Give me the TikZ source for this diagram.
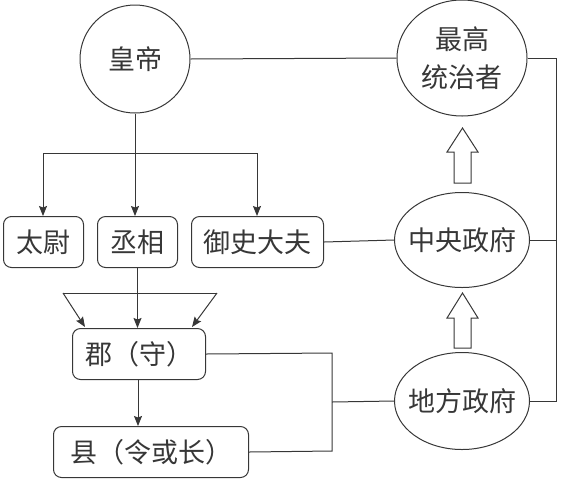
\documentclass[tikz,border=0pt]{standalone}
\usepackage{fontspec}
\setmainfont{Noto Sans CJK SC}[BoldFont=Noto Sans CJK SC]
\usetikzlibrary{arrows.meta,shapes.geometric}
\definecolor{ink}{RGB}{55,55,55}
\tikzset{
  ln/.style={draw=ink, line width=1pt},
  arr/.style={ln, -{Stealth[length=10pt,width=8pt,inset=1.5pt]}},
  txt/.style={text=ink, font=\fontsize{27}{38}\selectfont, inner sep=0pt, align=center},
  rbox/.style={draw=ink, line width=1pt, rounded corners=8pt, anchor=north west, inner sep=0pt},
  circ/.style={draw=ink, line width=1pt, ellipse, inner sep=0pt},
  blockarr/.style={draw=ink, line width=1pt, fill=white}
}
\begin{document}
\begin{tikzpicture}[x=1pt,y=-1pt]
\useasboundingbox (0,0) rectangle (561,480);
% circles
\node[circ, minimum width=110pt, minimum height=108pt] (hd) at (135,59) {};
\node[txt] at (hd.center) {皇帝};
\node[circ, minimum width=130pt, minimum height=116pt] (zg) at (462,58) {};
\node[txt] at (zg.center) {最高\\统治者};
\node[circ, minimum width=135pt, minimum height=95pt] (zy) at (462,240) {};
\node[txt] at (zy.center) {中央政府};
\node[circ, minimum width=135pt, minimum height=97pt] (df) at (462,401) {};
\node[txt] at (df.center) {地方政府};
% boxes
\node[rbox, minimum width=80pt, minimum height=51pt] (tw) at (3,216) {};
\node[txt] at (tw.center) {太尉};
\node[rbox, minimum width=80pt, minimum height=51pt] (cx) at (97,216) {};
\node[txt] at (cx.center) {丞相};
\node[rbox, minimum width=132pt, minimum height=51pt] (ys) at (191,216) {};
\node[txt] at (ys.center) {御史大夫};
\node[rbox, minimum width=133pt, minimum height=51pt] (jun) at (72,328) {};
\node[txt] at (jun.center) {郡（守）};
\node[rbox, minimum width=195pt, minimum height=51pt] (xian) at (53,426) {};
\node[txt] at (xian.center) {县（令或长）};
% coordinates
\coordinate (t0) at (135,153);
\coordinate (tl) at (43,153);
\coordinate (tr) at (257,153);
\coordinate (pl) at (63,293);
\coordinate (pr) at (217,293);
\coordinate (bx) at (332,402);
\coordinate (rx) at (556,240);
% tree from emperor
\draw[ln] (hd.south) -- (t0);
\draw[ln] (tl) -- (tr);
\draw[arr] (tl) -- (tl |- tw.north);
\draw[arr] (t0) -- (t0 |- cx.north);
\draw[arr] (tr) -- (tr |- ys.north);
% trapezoid
\draw[ln] (pl) -- (pr);
\draw[arr] (cx.south) -- (cx.south |- jun.north);
\draw[arr] (pl) -- (85,327);
\draw[arr] (pr) -- (192,327);
\draw[arr] (138,379) -- (138,426);
% right lines
\draw[ln] (hd.east) -- (zg.west);
\draw[ln] (ys.east) -- (zy.west);
\draw[ln] (zg.east) -- (556,58) -- (556,401) -- (df.east);
\draw[ln] (zy.east) -- (rx);
\draw[ln] (jun.east) -- (332,353) -- (332,451) -- (xian.east);
\draw[ln] (bx) -- (df.west);
% block arrows
\draw[blockarr] (454,183) -- (454,152) -- (447,152) -- (462.5,128) -- (478,152) -- (471,152) -- (471,183) -- cycle;
\draw[blockarr] (454,348) -- (454,318) -- (447,318) -- (462.5,293) -- (478,318) -- (471,318) -- (471,348) -- cycle;
\end{tikzpicture}
\end{document}
